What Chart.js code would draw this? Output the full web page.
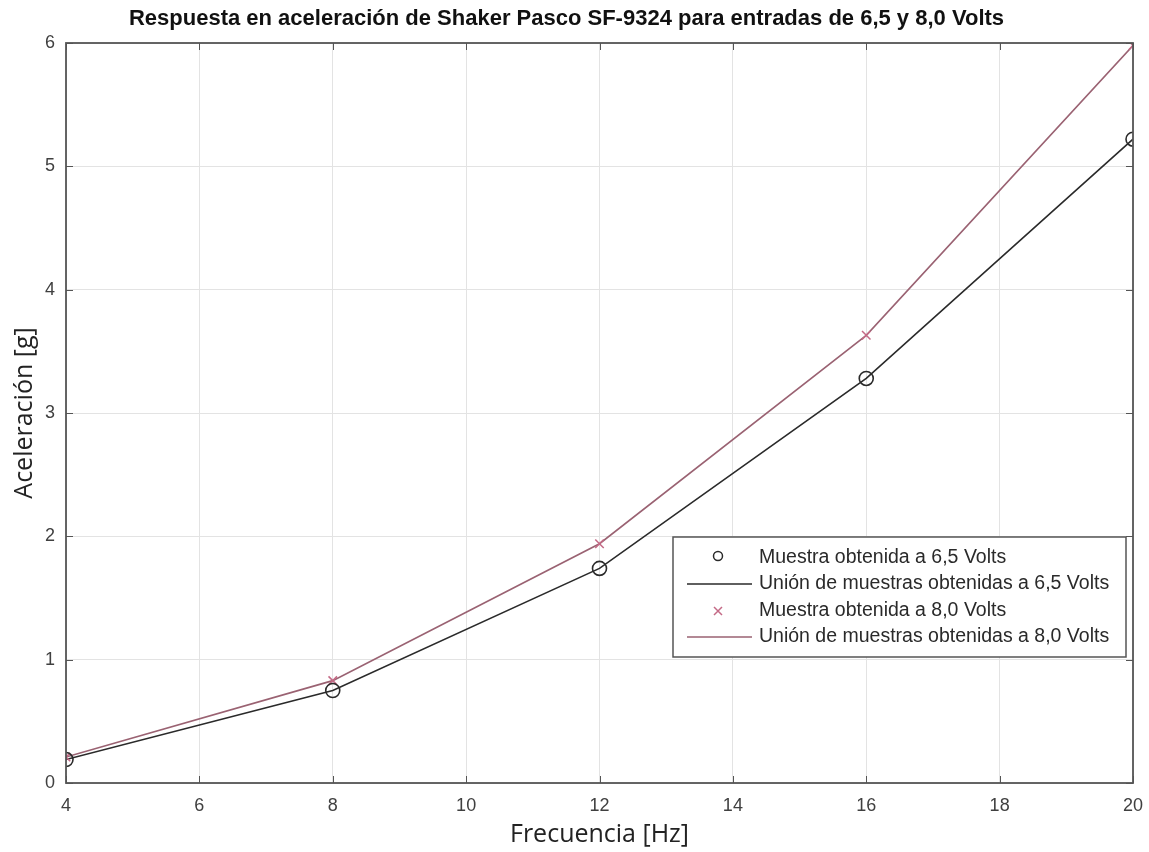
<!DOCTYPE html>
<html>
<head>
<meta charset="utf-8">
<script src="https://cdn.jsdelivr.net/npm/chart.js@4.4.1/dist/chart.umd.min.js"></script>
<style>
  html, body { margin: 0; padding: 0; background: #fff; }
  #wrap { width: 1149px; height: 852px; }
</style>
</head>
<body>
<div id="wrap"><canvas id="mainChart" width="1149" height="852"></canvas></div>
<script>
// data
const frequencies = [4, 8, 12, 16, 20];
const accel65 = [0.19, 0.75, 1.74, 3.28, 5.22];
const accel80 = [0.21, 0.83, 1.94, 3.63, 5.98];
const xTicks = [4, 6, 8, 10, 12, 14, 16, 18, 20];
const yTicks = [0, 1, 2, 3, 4, 5, 6];

const seriesLabels = [
    'Muestra obtenida a 6,5 Volts',
    'Unión de muestras obtenidas a 6,5 Volts',
    'Muestra obtenida a 8,0 Volts',
    'Unión de muestras obtenidas a 8,0 Volts'
];

const BLACK = '#2a2a2a';
const PINK_LINE = '#9a6272';
const PINK_MARK = '#c46a86';
const SANS = "'Liberation Sans', Arial, sans-serif";
const toPts = (ys) => frequencies.map((f, i) => ({ x: f, y: ys[i] }));

// MATLAB style: ticks pointing inward + box around the axes
const boxPlugin = {
    id: 'boxPlugin',
    afterDraw(chart) {
        const { ctx, chartArea: a, scales } = chart;
        ctx.save();
        ctx.strokeStyle = '#555';
        ctx.lineWidth = 1;
        ctx.beginPath();
        xTicks.forEach(t => {
            const px = Math.round(scales.x.getPixelForValue(t)) + 0.5;
            ctx.moveTo(px, a.bottom); ctx.lineTo(px, a.bottom - 7);
            ctx.moveTo(px, a.top); ctx.lineTo(px, a.top + 7);
        });
        yTicks.forEach(t => {
            const py = Math.round(scales.y.getPixelForValue(t)) + 0.5;
            ctx.moveTo(a.left, py); ctx.lineTo(a.left + 7, py);
            ctx.moveTo(a.right, py); ctx.lineTo(a.right - 7, py);
        });
        ctx.stroke();
        ctx.lineWidth = 1.8;
        ctx.strokeRect(a.left, a.top, a.right - a.left, a.bottom - a.top);
        ctx.restore();
    }
};

// legend box drawn inside the plot area, lower right
const legendBox = {
    id: 'legendBox',
    afterDraw(chart) {
        const { ctx } = chart;
        const x0 = 673, y0 = 537, w = 453, h = 120;
        ctx.save();
        ctx.fillStyle = '#fff';
        ctx.fillRect(x0, y0, w, h);
        ctx.strokeStyle = '#555';
        ctx.lineWidth = 1.5;
        ctx.strokeRect(x0, y0, w, h);
        ctx.font = '19.5px ' + SANS;
        ctx.textBaseline = 'middle';
        const rows = [558, 584, 611, 637];
        chart.data.datasets.forEach((ds, i) => {
            const y = rows[i];
            if (ds.showLine === false) {
                ctx.strokeStyle = ds.pointBorderColor;
                ctx.lineWidth = 1.5;
                ctx.beginPath();
                if (ds.pointStyle === 'circle') {
                    ctx.arc(718, y - 2, 4.5, 0, Math.PI * 2);
                } else {
                    ctx.moveTo(714, y - 4); ctx.lineTo(722, y + 4);
                    ctx.moveTo(722, y - 4); ctx.lineTo(714, y + 4);
                }
                ctx.stroke();
            } else {
                ctx.strokeStyle = ds.borderColor;
                ctx.lineWidth = 1.5;
                ctx.beginPath();
                ctx.moveTo(687, y); ctx.lineTo(752, y);
                ctx.stroke();
            }
            ctx.fillStyle = '#2a2a2a';
            ctx.fillText(ds.label, 759, y);
        });
        ctx.restore();
    }
};

new Chart(document.getElementById('mainChart'), {
    type: 'scatter',
    data: {
        datasets: [
            {
                label: seriesLabels[0], data: toPts(accel65), showLine: false,
                pointStyle: 'circle', pointRadius: 7, pointBorderWidth: 1.6,
                pointBorderColor: BLACK, pointBackgroundColor: 'rgba(0,0,0,0)', order: 0
            },
            {
                label: seriesLabels[1], data: toPts(accel65), showLine: true,
                borderColor: BLACK, borderWidth: 1.6, pointRadius: 0, order: 1
            },
            {
                label: seriesLabels[2], data: toPts(accel80), showLine: false,
                pointStyle: 'crossRot', pointRadius: 6, pointBorderWidth: 1.5,
                pointBorderColor: PINK_MARK, pointBackgroundColor: PINK_MARK, order: 0
            },
            {
                label: seriesLabels[3], data: toPts(accel80), showLine: true,
                borderColor: PINK_LINE, borderWidth: 1.6, pointRadius: 0, order: 1
            }
        ]
    },
    options: {
        responsive: false,
        animation: false,
        layout: { padding: { top: 0, right: 16, left: 0, bottom: 0 } },
        plugins: {
            legend: { display: false },
            tooltip: { enabled: false },
            title: {
                display: true,
                text: 'Respuesta en aceleración de Shaker Pasco SF-9324 para entradas de 6,5 y 8,0 Volts',
                color: '#111',
                font: { family: SANS, size: 22, weight: 'bold' },
                padding: { top: 6, bottom: 10.6 }
            }
        },
        scales: {
            x: {
                type: 'linear', min: 4, max: 20,
                afterBuildTicks: (s) => { s.ticks = xTicks.map(v => ({ value: v })); },
                afterFit: (s) => { s.height = 69; s.paddingLeft = 0; s.paddingRight = 0; },
                grid: { color: '#e3e3e3', drawTicks: false },
                border: { display: false },
                ticks: { color: '#404040', padding: 12, font: { family: SANS, size: 18 } },
                title: {
                    display: true, text: 'Frecuencia [Hz]', color: '#222',
                    font: { family: "'Open Sans', sans-serif", size: 25 }, padding: { top: 0, bottom: 2 }
                }
            },
            y: {
                type: 'linear', min: 0, max: 6,
                afterBuildTicks: (s) => { s.ticks = yTicks.map(v => ({ value: v })); },
                afterFit: (s) => { s.width = 66; s.paddingTop = 0; s.paddingBottom = 0; },
                grid: { color: '#e3e3e3', drawTicks: false },
                border: { display: false },
                ticks: { color: '#404040', padding: 11, font: { family: SANS, size: 18 } },
                title: {
                    display: true, text: 'Aceleración [g]', color: '#222',
                    font: { family: "'Open Sans', sans-serif", size: 25 }, padding: 10
                }
            }
        }
    },
    plugins: [boxPlugin, legendBox]
});
</script>
</body>
</html>
